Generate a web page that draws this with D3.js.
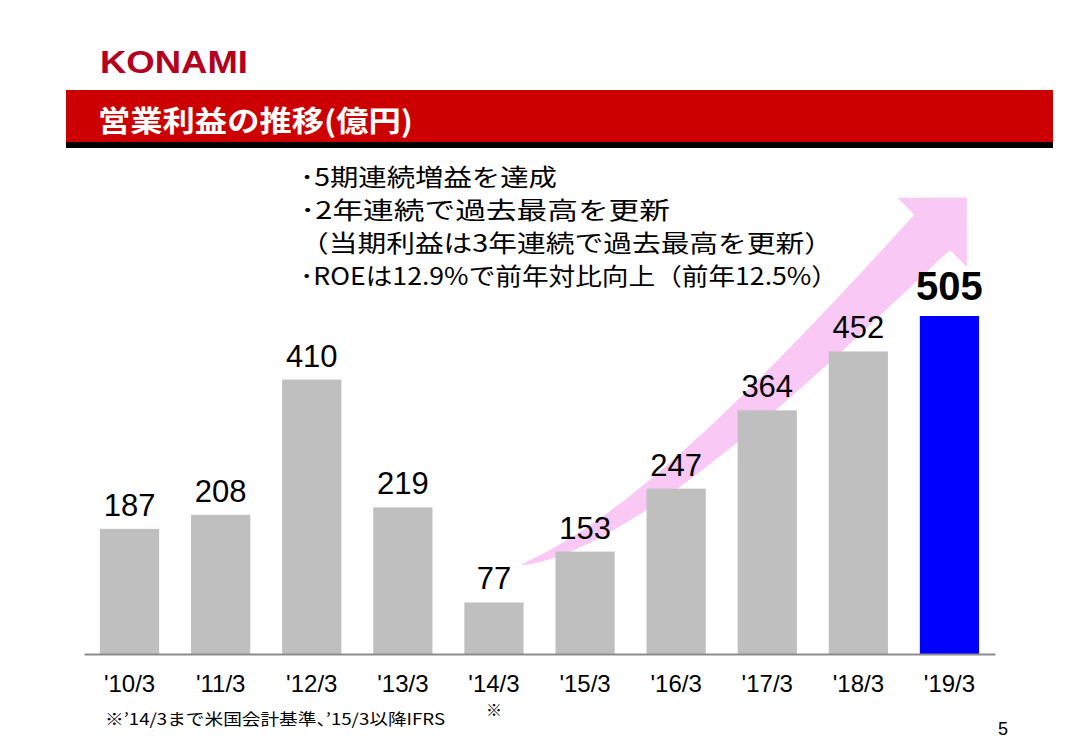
<!DOCTYPE html>
<html>
<head>
<meta charset="utf-8">
<script src="https://cdn.jsdelivr.net/npm/d3@7"></script>
<style>
  body { margin: 0; background: #fff; }
  svg { display: block; }
</style>
</head>
<body>
<div id="chart"></div>
<script>
// data
const categories = ["'10/3", "'11/3", "'12/3", "'13/3", "'14/3", "'15/3", "'16/3", "'17/3", "'18/3", "'19/3"];
const profits = [187, 208, 410, 219, 77, 153, 247, 364, 452, 505];
const highlight = "'19/3";
const title = "営業利益の推移(億円)";
const notes = [
  "･5期連続増益を達成",
  "･2年連続で過去最高を更新",
  "（当期利益は3年連続で過去最高を更新）",
  "･ROEは12.9%で前年対比向上（前年12.5%）"
];
const footnote = "※’14/3まで米国会計基準、’15/3以降IFRS";
// growth arrow, in [category index, value] space
const arrowCurve = [[4.29, 133], [5.60, 178], [7.65, 471], [8.81, 630]];
const arrowTip = [9.19, 682];

const W = 1090, H = 754;
const svg = d3.select("#chart").append("svg")
  .attr("width", W).attr("height", H);

const latin = "'Liberation Sans', Arial, sans-serif";
const jp = "'Noto Sans CJK JP', 'Noto Sans', sans-serif";

// header
svg.append("text")
  .attr("x", 100).attr("y", 73)
  .attr("textLength", 148).attr("lengthAdjust", "spacingAndGlyphs")
  .style("font-family", latin).style("font-weight", "bold").style("font-size", "32px")
  .style("fill", "#b4001e")
  .text("KONAMI");

svg.append("rect").attr("x", 66).attr("y", 90).attr("width", 987).attr("height", 53).attr("fill", "#cc0000");
svg.append("rect").attr("x", 66).attr("y", 142).attr("width", 987).attr("height", 6).attr("fill", "#000");
svg.append("text")
  .attr("x", 98).attr("y", 132)
  .attr("textLength", 315).attr("lengthAdjust", "spacingAndGlyphs")
  .style("font-family", jp).style("font-weight", "bold").style("font-size", "29px")
  .style("fill", "#fff")
  .text(title);

// scales
const x = d3.scaleBand().domain(categories).range([84, 995]).paddingInner(0.35).paddingOuter(0.175);
const y = d3.scaleLinear().domain([0, 505]).range([654, 316]);
const step = x.step();
const xi = i => x(categories[0]) + x.bandwidth() / 2 + i * step;

// annotation text
const noteEnds = [557, 670, 833, 838];
svg.append("g").selectAll("text")
  .data(notes)
  .enter().append("text")
  .attr("x", 300)
  .attr("y", (d, i) => 186 + i * 33)
  .attr("textLength", (d, i) => noteEnds[i] - 300)
  .attr("lengthAdjust", "spacingAndGlyphs")
  .style("font-family", jp).style("font-size", "24px").style("fill", "#000")
  .text(d => d);

// arrow
const P = arrowCurve.map(d => [xi(d[0]), y(d[1])]);
const tip = [xi(arrowTip[0]), y(arrowTip[1])];
const bez = t => {
  const u = 1 - t;
  return [0, 1].map(k => u*u*u*P[0][k] + 3*u*u*t*P[1][k] + 3*u*t*t*P[2][k] + t*t*t*P[3][k]);
};
const bezD = t => {
  const u = 1 - t;
  return [0, 1].map(k => 3*u*u*(P[1][k]-P[0][k]) + 6*u*t*(P[2][k]-P[1][k]) + 3*t*t*(P[3][k]-P[2][k]));
};
const shaftW = 50, headHalf = 49;
const outer = [], inner = [];
d3.range(0, 1.0001, 0.02).forEach(t => {
  const c = bez(t), d = bezD(t);
  const len = Math.hypot(d[0], d[1]);
  const n = [-d[1] / len, d[0] / len];
  const w = shaftW * Math.pow(t, 0.7) / 2;
  outer.push([c[0] - n[0]*w, c[1] - n[1]*w]);
  inner.push([c[0] + n[0]*w, c[1] + n[1]*w]);
});
const base = P[3];
const hd = [tip[0] - base[0], tip[1] - base[1]];
const hl = Math.hypot(hd[0], hd[1]);
const hn = [-hd[1] / hl, hd[0] / hl];
const arrowPts = outer
  .concat([[base[0] - hn[0]*headHalf, base[1] - hn[1]*headHalf], tip,
           [base[0] + hn[0]*headHalf, base[1] + hn[1]*headHalf]])
  .concat(inner.reverse());
svg.append("path")
  .attr("d", d3.line()(arrowPts) + "Z")
  .attr("fill", "#f9c8f4");

// bars
svg.append("g").selectAll("rect")
  .data(profits)
  .enter().append("rect")
  .attr("x", (d, i) => x(categories[i]))
  .attr("y", d => y(d))
  .attr("width", x.bandwidth())
  .attr("height", d => y(0) - y(d))
  .attr("fill", (d, i) => categories[i] === highlight ? "#0000ff" : "#bfbfbf");

// value labels
svg.append("g").selectAll("text")
  .data(profits)
  .enter().append("text")
  .attr("x", (d, i) => x(categories[i]) + x.bandwidth() / 2)
  .attr("y", (d, i) => y(d) - (categories[i] === highlight ? 16 : 13))
  .attr("text-anchor", "middle")
  .style("font-family", latin)
  .style("font-size", (d, i) => categories[i] === highlight ? "40px" : "31px")
  .style("font-weight", (d, i) => categories[i] === highlight ? "bold" : "normal")
  .style("fill", "#000")
  .text(d => d);

// axis
const axis = svg.append("g")
  .attr("transform", `translate(0,${y(0)})`)
  .call(d3.axisBottom(x).tickSize(0).tickSizeOuter(0).tickPadding(21));
axis.select(".domain").attr("stroke", "#8c8c8c").attr("stroke-width", 2);
axis.selectAll(".tick text")
  .style("font-family", latin).style("font-size", "24px").style("fill", "#000");

// footnotes
svg.append("text")
  .attr("x", x("'14/3") + x.bandwidth() / 2).attr("y", 716)
  .attr("text-anchor", "middle")
  .style("font-family", jp).style("font-size", "16px").style("fill", "#000")
  .text("※");
svg.append("text")
  .attr("x", 105).attr("y", 725)
  .attr("textLength", 340).attr("lengthAdjust", "spacingAndGlyphs")
  .style("font-family", jp).style("font-size", "16px").style("fill", "#000")
  .text(footnote);
svg.append("text")
  .attr("x", 998).attr("y", 735)
  .style("font-family", latin).style("font-size", "18px").style("fill", "#000")
  .text("5");
</script>
</body>
</html>
